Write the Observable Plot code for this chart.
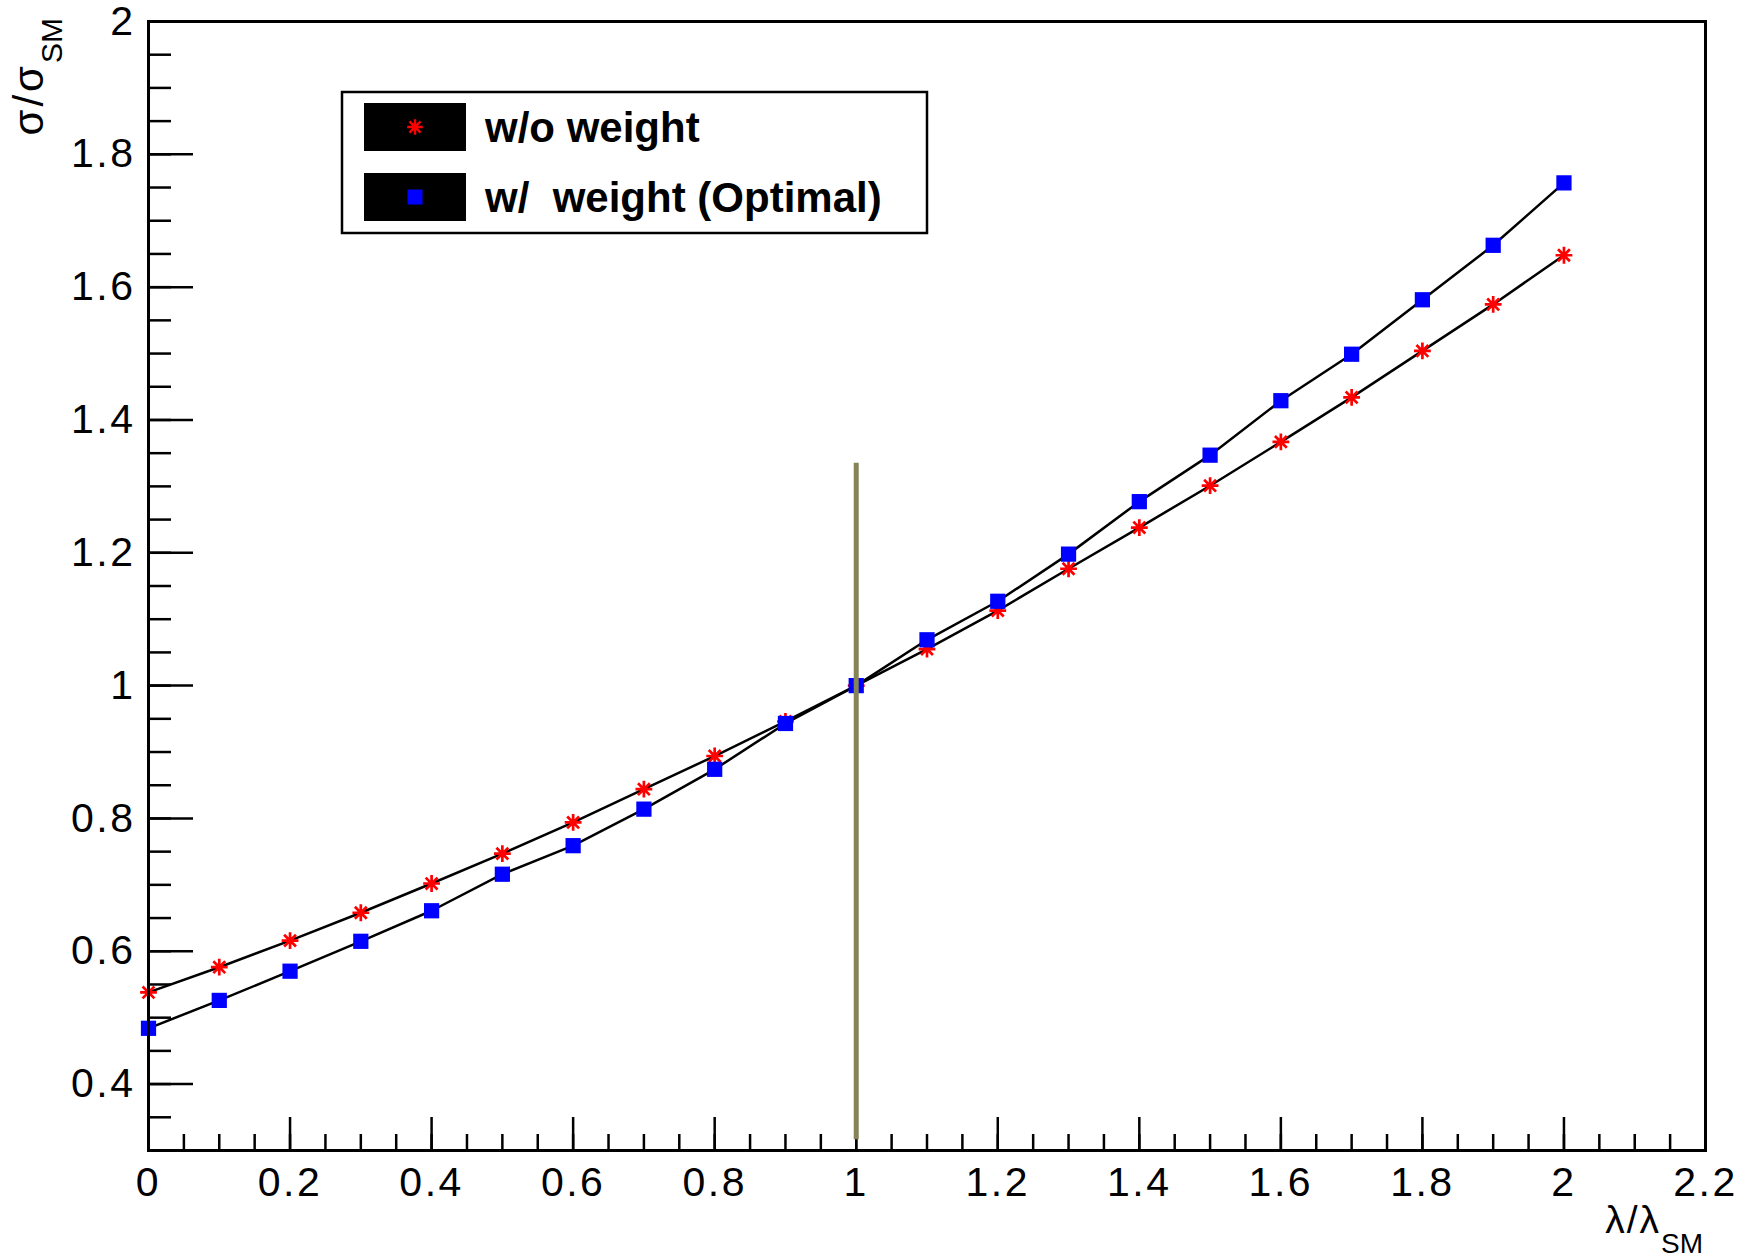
<!DOCTYPE html>
<html>
<head>
<meta charset="utf-8">
<script src="https://cdn.jsdelivr.net/npm/d3@7"></script>
<script src="https://cdn.jsdelivr.net/npm/@observablehq/plot@0.6"></script>
<style>
  html, body { margin: 0; padding: 0; background: #fff; }
  #chart svg { display: block; }
  #chart svg g[aria-label="x-axis tick label"] text,
  #chart svg g[aria-label="y-axis tick label"] text { letter-spacing: 2.5px; }
</style>
</head>
<body>
<div id="chart"></div>
<script>
// Coupling scan: lambda / lambda_SM
const lambda = [0.0, 0.1, 0.2, 0.3, 0.4, 0.5, 0.6, 0.7, 0.8, 0.9, 1.0,
                1.1, 1.2, 1.3, 1.4, 1.5, 1.6, 1.7, 1.8, 1.9, 2.0];
// sigma / sigma_SM without event weights
const sigmaNoWeight = [0.538, 0.576, 0.616, 0.658, 0.702, 0.747, 0.794, 0.844, 0.894, 0.946, 1.000,
                       1.055, 1.113, 1.176, 1.238, 1.301, 1.367, 1.434, 1.504, 1.574, 1.648];
// sigma / sigma_SM with the optimal weights
const sigmaOptimal = [0.484, 0.526, 0.570, 0.615, 0.661, 0.716, 0.759, 0.814, 0.874, 0.943, 1.000,
                      1.069, 1.127, 1.198, 1.277, 1.347, 1.429, 1.499, 1.581, 1.663, 1.757];

// Reference marker at the SM point
const refX = [1.0];
const refBottom = [0.316];
const refTop = [1.335];

// Axis ranges and tick labels
const xDomain = [0, 2.2];
const yDomain = [0.3, 2.0];
const xMajor = [0, 0.2, 0.4, 0.6, 0.8, 1.0, 1.2, 1.4, 1.6, 1.8, 2.0, 2.2];
const yMajor = [0.4, 0.6, 0.8, 1.0, 1.2, 1.4, 1.6, 1.8, 2.0];
const xMinor = d3.range(0, 45).map(i => i / 20);
const yMinor = d3.range(6, 41).map(i => i / 20);

const seriesNames = ["w/o weight", "w/  weight (Optimal)"];

const rowsNoWeight = lambda.map((x, i) => ({x, y: sigmaNoWeight[i]}));
const rowsOptimal = lambda.map((x, i) => ({x, y: sigmaOptimal[i]}));
const refRows = refX.map((x, i) => ({x, y1: refBottom[i], y2: refTop[i]}));

// Eight-armed asterisk marker
const asterisk8 = {
  draw(ctx, size) {
    const r = Math.sqrt(size / Math.PI);
    const d = r * Math.SQRT1_2;
    ctx.moveTo(-r, 0); ctx.lineTo(r, 0);
    ctx.moveTo(0, -r); ctx.lineTo(0, r);
    ctx.moveTo(-d, -d); ctx.lineTo(d, d);
    ctx.moveTo(-d, d); ctx.lineTo(d, -d);
  }
};

const fmt = d => String(+d.toFixed(1));
const W = 1745, H = 1257;
const FONT = "'Liberation Sans', Arial, Helvetica, sans-serif";

const plot = Plot.plot({
  width: W,
  height: H,
  marginLeft: 148,
  marginRight: 40,
  marginTop: 21,
  marginBottom: 107,
  style: {fontFamily: FONT, fontSize: "41px", background: "#fff", color: "#000", overflow: "visible"},
  x: {domain: xDomain},
  y: {domain: yDomain},
  marks: [
    Plot.line(rowsNoWeight, {x: "x", y: "y", stroke: "#000", strokeWidth: 2.5}),
    Plot.dot(rowsNoWeight, {x: "x", y: "y", symbol: asterisk8, r: 8.4, stroke: "#ff0000", strokeWidth: 2.7, fill: "none"}),
    Plot.line(rowsOptimal, {x: "x", y: "y", stroke: "#000", strokeWidth: 2.5}),
    Plot.dot(rowsOptimal, {x: "x", y: "y", symbol: "square", r: 8.6, fill: "#0000ff", stroke: "none"}),
    // inward ticks on the left axis
    Plot.axisY(yMajor, {tickSize: -45, strokeWidth: 2.5, fill: "none", label: null}),
    Plot.axisY(yMinor, {tickSize: -23, strokeWidth: 2.5, fill: "none", label: null}),
    Plot.axisY(yMajor, {tickSize: 0, tickPadding: 13, tickFormat: fmt, label: null, fontSize: 41}),
    // inward ticks on the bottom axis
    Plot.axisX(xMajor, {tickSize: -33, strokeWidth: 2.5, fill: "none", label: null}),
    Plot.axisX(xMinor, {tickSize: -16, strokeWidth: 2.5, fill: "none", label: null}),
    Plot.axisX(xMajor, {tickSize: 0, tickPadding: 16, tickFormat: fmt, label: null, fontSize: 41}),
    // vertical marker at the SM value
    Plot.ruleX(refRows, {x: "x", y1: "y1", y2: "y2", stroke: "#858358", strokeWidth: 5}),
    Plot.frame({stroke: "#000", strokeWidth: 3})
  ]
});

document.getElementById("chart").appendChild(plot);

const svg = d3.select(plot);
const xs = plot.scale("x"), ys = plot.scale("y");

// Axis titles with subscripts
const yTitle = svg.append("text")
  .attr("transform", `translate(43, ${ys.apply(yDomain[1]) - 3}) rotate(-90)`)
  .attr("text-anchor", "end")
  .attr("font-family", FONT)
  .attr("fill", "#000");
yTitle.append("tspan").attr("font-size", 42).attr("letter-spacing", 3).text("σ/σ");
yTitle.append("tspan").attr("font-size", 30).attr("dy", 19).text("SM");

const xTitle = svg.append("text")
  .attr("x", xs.apply(xDomain[1]) - 2)
  .attr("y", 1233)
  .attr("text-anchor", "end")
  .attr("font-family", FONT)
  .attr("fill", "#000");
xTitle.append("tspan").attr("font-size", 39).attr("letter-spacing", 2).text("λ/λ");
xTitle.append("tspan").attr("font-size", 28).attr("dy", 20).text("SM");

// Legend box
const lg = svg.append("g").attr("font-family", FONT).attr("text-anchor", "start");
lg.append("rect").attr("x", 342).attr("y", 92).attr("width", 585).attr("height", 141)
  .attr("fill", "#fff").attr("stroke", "#000").attr("stroke-width", 2.5);
const entries = [
  {y: 103, text: seriesNames[0], kind: "star"},
  {y: 173, text: seriesNames[1], kind: "square"}
];
entries.forEach(e => {
  lg.append("rect").attr("x", 364).attr("y", e.y).attr("width", 102).attr("height", 48).attr("fill", "#000");
  const cx = 415, cy = e.y + 24;
  if (e.kind === "star") {
    const p = d3.path();
    asterisk8.draw(p, Math.PI * 7.8 * 7.8);
    lg.append("path").attr("transform", `translate(${cx},${cy})`).attr("d", p.toString())
      .attr("stroke", "#ff0000").attr("stroke-width", 2.5).attr("fill", "none");
  } else {
    lg.append("rect").attr("x", cx - 7.5).attr("y", cy - 7.5).attr("width", 15).attr("height", 15).attr("fill", "#0000ff");
  }
  lg.append("text").attr("x", 485).attr("y", e.y + 39)
    .attr("font-size", 42).attr("font-weight", "bold")
    .attr("fill", "#000")
    .style("white-space", "pre")
    .text(e.text);
});
</script>
</body>
</html>
